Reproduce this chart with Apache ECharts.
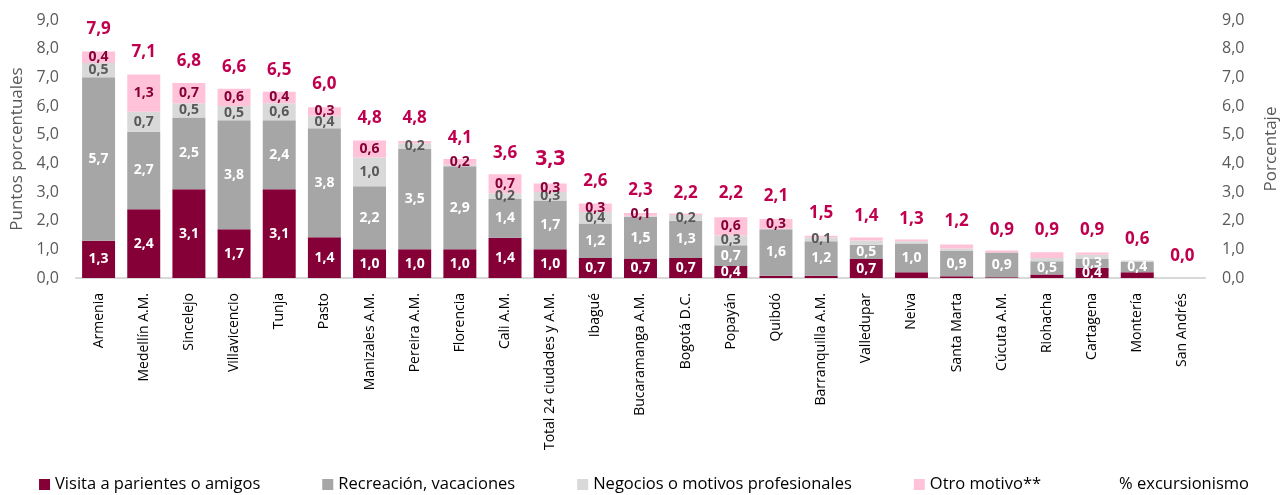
<!DOCTYPE html>
<html>
<head>
<meta charset="utf-8">
<script src="https://cdn.jsdelivr.net/npm/echarts@6/dist/echarts.min.js"></script>
<style>
    html, body { margin: 0; padding: 0; background: #fff; }
    #chart { width: 1288px; height: 495px; }
</style>
</head>
<body>
<div id="chart"></div>
<script>
// ciudades (eje x)
var ciudades = ['Armenia', 'Medellín A.M.', 'Sincelejo', 'Villavicencio', 'Tunja', 'Pasto',
    'Manizales A.M.', 'Pereira A.M.', 'Florencia', 'Cali A.M.', 'Total 24 ciudades y A.M.',
    'Ibagué', 'Bucaramanga A.M.', 'Bogotá D.C.', 'Popayán', 'Quibdó', 'Barranquilla A.M.',
    'Valledupar', 'Neiva', 'Santa Marta', 'Cúcuta A.M.', 'Riohacha', 'Cartagena', 'Montería',
    'San Andrés'];

// puntos porcentuales por motivo
var visita = [1.3, 2.4, 3.1, 1.7, 3.1, 1.42, 1.0, 1.0, 1.0, 1.4, 1.0, 0.7, 0.68, 0.7, 0.42, 0.08, 0.08,
    0.66, 0.2, 0.06, 0.03, 0.12, 0.36, 0.2, 0];
var recreacion = [5.7, 2.7, 2.5, 3.8, 2.4, 3.8, 2.2, 3.5, 2.9, 1.36, 1.7, 1.2, 1.46, 1.3, 0.72, 1.62, 1.2,
    0.5, 1.0, 0.88, 0.86, 0.46, 0.3, 0.36, 0];
var negocios = [0.5, 0.7, 0.5, 0.5, 0.6, 0.44, 1.0, 0.2, 0.05, 0.2, 0.3, 0.4, 0.03, 0.2, 0.34, 0.02, 0.14,
    0.15, 0.08, 0.09, 0, 0.12, 0.15, 0.05, 0];
var otro = [0.4, 1.3, 0.7, 0.6, 0.4, 0.3, 0.6, 0.08, 0.2, 0.66, 0.3, 0.3, 0.1, 0.05, 0.64, 0.34, 0.05,
    0.1, 0.06, 0.14, 0.07, 0.2, 0.08, 0, 0];

// % excursionismo (eje derecho)
var excursionismo = [7.9, 7.1, 6.8, 6.6, 6.5, 6.0, 4.8, 4.8, 4.1, 3.6, 3.3, 2.6, 2.3, 2.2, 2.2, 2.1, 1.5,
    1.4, 1.3, 1.2, 0.9, 0.9, 0.9, 0.6, 0.0];

var FUENTE = '"Open Sans", "Noto Sans", sans-serif';

function coma(v) {
    return v.toFixed(1).replace('.', ',');
}

// etiqueta de cada tramo: solo se muestran los valores visibles en el original
function etiqueta(color, minimo, soloHasta) {
    return {
        show: true,
        position: 'inside',
        color: color,
        fontFamily: FUENTE,
        fontWeight: 'bold',
        fontSize: 14,
        formatter: function(p) {
            if (p.value < minimo) return '';
            if (soloHasta !== undefined && p.dataIndex >= soloHasta) return '';
            return coma(p.value);
        }
    };
}

var myChart = echarts.init(document.getElementById('chart'));

var ejeY = {
    type: 'value',
    min: 0,
    max: 9,
    interval: 1,
    nameLocation: 'middle',
    nameRotate: 90,
    nameTextStyle: { color: '#595959', fontSize: 17, fontFamily: FUENTE },
    axisLine: { show: false },
    axisTick: { show: false },
    splitLine: { show: false },
    axisLabel: {
        color: '#595959',
        fontSize: 16,
        margin: 17,
        fontFamily: FUENTE,
        formatter: function(v) { return coma(v); }
    }
};

var option = {
    animation: false,
    grid: { left: 76, right: 78, top: 20, bottom: 217 },
    legend: {
        top: 471,
        left: 'center',
        itemWidth: 11,
        itemHeight: 11,
        itemGap: 62,
        textStyle: { color: '#000', fontSize: 16.5, fontFamily: FUENTE },
        data: [
            { name: 'Visita a parientes o amigos', icon: 'rect' },
            { name: 'Recreación, vacaciones', icon: 'rect' },
            { name: 'Negocios o motivos profesionales', icon: 'rect' },
            { name: 'Otro motivo**', icon: 'rect' },
            { name: '% excursionismo', icon: 'none' }
        ]
    },
    xAxis: {
        type: 'category',
        data: ciudades,
        axisLine: { lineStyle: { color: '#d9d9d9', width: 2 } },
        axisTick: { show: false },
        axisLabel: {
            interval: 0,
            rotate: 90,
            margin: 15,
            color: '#000',
            fontSize: 14,
            fontFamily: FUENTE
        }
    },
    yAxis: [
        Object.assign({}, ejeY, { name: 'Puntos porcentuales', nameGap: 49 }),
        Object.assign({}, ejeY, { name: 'Porcentaje', nameGap: 58, position: 'right' })
    ],
    series: [{
        name: 'Visita a parientes o amigos',
        type: 'bar',
        stack: 'motivo',
        barCategoryGap: '27%',
        data: visita,
        itemStyle: { color: '#850036' },
        label: etiqueta('#fff', 0.3)
    }, {
        name: 'Recreación, vacaciones',
        type: 'bar',
        stack: 'motivo',
        data: recreacion,
        itemStyle: { color: '#a6a6a6' },
        label: etiqueta('#fff', 0.25)
    }, {
        name: 'Negocios o motivos profesionales',
        type: 'bar',
        stack: 'motivo',
        data: negocios,
        itemStyle: { color: '#d9d9d9' },
        label: etiqueta('#595959', 0.095, 17)
    }, {
        name: 'Otro motivo**',
        type: 'bar',
        stack: 'motivo',
        data: otro,
        itemStyle: { color: '#ffc2d9' },
        label: etiqueta('#850036', 0.095, 17)
    }, {
        name: '% excursionismo',
        type: 'line',
        yAxisIndex: 1,
        data: excursionismo,
        symbol: 'circle',
        symbolSize: 1,
        itemStyle: { color: 'rgba(0,0,0,0)' },
        lineStyle: { width: 0, color: 'rgba(0,0,0,0)' },
        z: 5,
        label: {
            show: true,
            position: 'top',
            distance: 13,
            color: '#c0004e',
            fontFamily: FUENTE,
            fontWeight: 'bold',
            fontSize: 17,
            formatter: function(p) {
                if (p.dataIndex === 10) return '{big|' + coma(p.value) + '}';
                return coma(p.value);
            },
            rich: {
                big: { fontSize: 21, fontWeight: 'bold', color: '#c0004e', fontFamily: FUENTE }
            }
        }
    }]
};

myChart.setOption(option);
window.addEventListener('resize', function() {
    myChart.resize();
});
</script>
</body>
</html>
